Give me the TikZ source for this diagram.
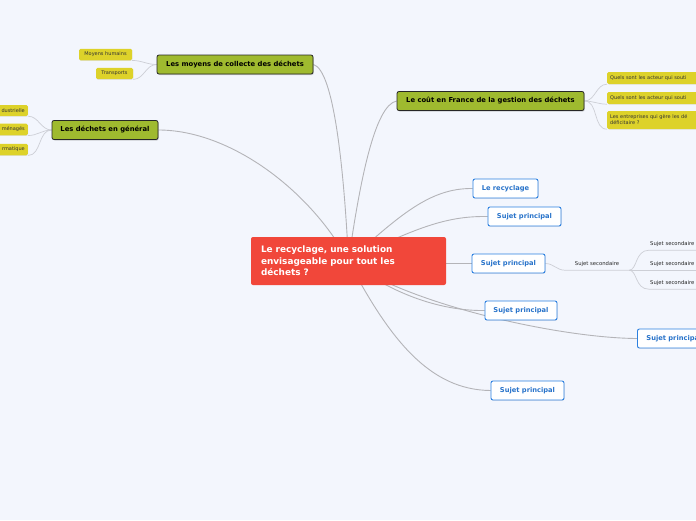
\documentclass[tikz,border=0pt]{standalone}
\usepackage{fontspec}
\setmainfont{DejaVu Sans}
\usetikzlibrary{positioning,shadows,backgrounds}

\definecolor{fond}{HTML}{F3F6FD}
\definecolor{rouge}{HTML}{F1473A}
\definecolor{olive}{HTML}{9FBA2F}
\definecolor{jaune}{HTML}{DDD22A}
\definecolor{bleu}{HTML}{2C80E0}
\definecolor{trait}{HTML}{B4B4B8}
\definecolor{fin}{HTML}{CDCFD6}

\begin{document}
\begin{tikzpicture}[x=1pt,y=-1pt,
  centre/.style={fill=rouge, rounded corners=2pt, text=white,
    font=\fontsize{8.9}{11.5}\selectfont\bfseries, text width=175pt,
    align=left, inner xsep=10pt, minimum height=48pt},
  branche/.style={fill=olive, draw=black!85, line width=0.8pt,
    rounded corners=2pt, font=\fontsize{6.8}{7.5}\selectfont\bfseries,
    minimum height=19pt, inner xsep=2pt,
    drop shadow={shadow xshift=0.8pt, shadow yshift=-1pt, opacity=0.35}},
  etiquette/.style={fill=jaune, rounded corners=1.5pt, text=black!80,
    font=\fontsize{5}{6}\selectfont, minimum height=11pt, inner xsep=3pt,
    drop shadow={shadow xshift=0.4pt, shadow yshift=-0.6pt, opacity=0.15}},
  sujet/.style={fill=white, draw=bleu, line width=0.9pt, rounded corners=2pt,
    text=bleu!90!black, font=\fontsize{6.7}{7.5}\selectfont\bfseries,
    minimum height=19pt, minimum width=73pt, inner xsep=2pt,
    drop shadow={shadow xshift=0.5pt, shadow yshift=-0.7pt, opacity=0.2}},
  secondaire/.style={font=\fontsize{5.3}{6.2}\selectfont, text=black!85,
    inner sep=1pt},
  lien/.style={draw=trait, line width=0.9pt},
  fil/.style={draw=fin, line width=0.7pt}]

\useasboundingbox (0,0) rectangle (696,520);
\clip (0,0) rectangle (696,520);

% Sujet central
\node[centre] (c) at (348.5,261) {Le recyclage, une solution\\envisageable pour tout les\\déchets ?};

% Branches principales
\node[branche, minimum width=156pt] (moyens) at (235,64.5) {Les moyens de collecte des déchets};
\node[branche, minimum width=106pt] (general) at (105,130) {Les déchets en général};
\node[branche, minimum width=187pt] (cout) at (490.5,101) {Le coût en France de la gestion des déchets};

% Etiquettes jaunes
\node[etiquette, minimum width=53pt] (humains) at (105.5,54.5) {Moyens humains};
\node[etiquette, minimum width=37pt] (transp) at (114.5,73.5) {Transports};

\node[etiquette, anchor=east, text width=40pt, align=right] (indus) at (28,110.5) {dustrielle};
\node[etiquette, anchor=east, text width=40pt, align=right] (menag) at (28,129.5) {ménagés};
\node[etiquette, anchor=east, text width=40pt, align=right] (info) at (28,149.5) {rmatique};

\node[etiquette, anchor=west, text width=100pt, align=left, minimum height=12pt] (q1) at (607,78) {Quels sont les acteur qui souti};
\node[etiquette, anchor=west, text width=100pt, align=left, minimum height=12pt] (q2) at (607,98) {Quels sont les acteur qui souti};
\node[etiquette, anchor=west, text width=100pt, align=left, minimum height=18pt] (q3) at (607,120) {Les entreprises qui gère les dé\\déficitaire ?};

% Sujets principaux
\node[sujet, minimum width=65pt] (recyc) at (505.5,188.5) {Le recyclage};
\node[sujet] (sp2) at (524.5,216.5) {Sujet principal};
\node[sujet] (sp3) at (508.5,263.5) {Sujet principal};
\node[sujet, minimum width=72pt] (sp4) at (521,310.5) {Sujet principal};
\node[sujet, anchor=west] (sp5) at (637,338.5) {Sujet principal};
\node[sujet] (sp6) at (527.5,390.5) {Sujet principal};

% Sujets secondaires
\node[secondaire, minimum width=64pt, minimum height=12pt] (ss) at (597,264) {Sujet secondaire};
\node[secondaire, anchor=west, text width=60pt, align=left, minimum height=12pt] (t1) at (649,244) {Sujet secondaire};
\node[secondaire, anchor=west, text width=60pt, align=left, minimum height=12pt] (t2) at (649,264) {Sujet secondaire};
\node[secondaire, anchor=west, text width=60pt, align=left, minimum height=12pt] (t3) at (649,283) {Sujet secondaire};

\begin{scope}[on background layer]
\clip (0,0) rectangle (696,520);
\fill[fond] (0,0) rectangle (696,520);

% Liens du centre
\draw[lien] (c.center) .. controls (344,170) and (334,70) .. (moyens.east);
\draw[lien] (c.center) .. controls (310,190) and (230,130) .. (general.east);
\draw[lien] (c.center) .. controls (360,180) and (375,105) .. (cout.west);
\draw[lien] (c.center) .. controls (400,215) and (430,188) .. (recyc.west);
\draw[lien] (c.center) .. controls (420,225) and (450,216) .. (sp2.west);
\draw[lien] (c |- sp3) -- (sp3.west);
\draw[lien] (c.center) .. controls (400,300) and (450,311) .. (sp4.west);
\draw[lien] (c.center) .. controls (410,305) and (560,338) .. (sp5.west);
\draw[lien] (c.center) .. controls (390,340) and (430,390) .. (sp6.west);

% Liens des branches
\draw[fil] (moyens.west) to[out=180,in=0] (humains.south east);
\draw[fil] (moyens.west) to[out=180,in=0] (transp.south east);
\draw[fil] (general.west) to[out=180,in=0] (indus.south east);
\draw[fil] (general.west) to[out=180,in=0] (menag.south east);
\draw[fil] (general.west) to[out=180,in=0] (info.south east);
\draw[fil] (cout.east) to[out=0,in=180] (q1.south west);
\draw[fil] (cout.east) to[out=0,in=180] (q2.south west);
\draw[fil] (cout.east) to[out=0,in=180] (q3.south west);

\draw[fil] (sp3.east) to[out=0,in=180] (ss.south west) -- (ss.south east);
\draw[fil] (ss.south east) .. controls +(8,0) and +(-14,0) .. (t1.south west) -- (t1.south east);
\draw[fil] (ss.south east) -- (t2.south west) -- (t2.south east);
\draw[fil] (ss.south east) .. controls +(8,0) and +(-14,0) .. (t3.south west) -- (t3.south east);
\end{scope}

\end{tikzpicture}
\end{document}
